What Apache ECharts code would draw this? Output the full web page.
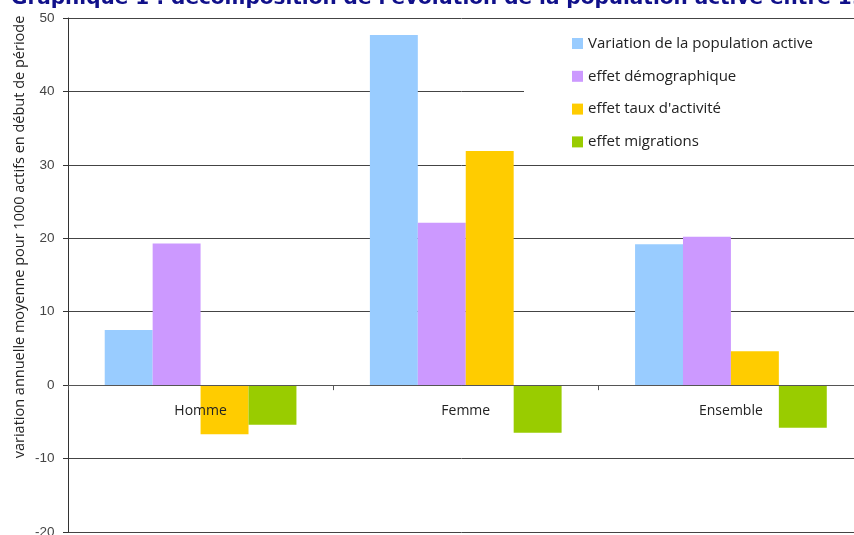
<!DOCTYPE html>
<html><head><meta charset="utf-8">
<script src="https://cdn.jsdelivr.net/npm/echarts@6/dist/echarts.min.js"></script>
<style>html,body{margin:0;padding:0;background:#fff}#c{width:854px;height:535px}</style>
</head><body><div id="c"></div>
<script>
const categories = ['Homme', 'Femme', 'Ensemble'];
const seriesNames = ['Variation de la population active', 'effet démographique', "effet taux d'activité", 'effet migrations'];
const variation = [7.5, 47.7, 19.2];
const demographique = [19.3, 22.1, 20.2];
const tauxActivite = [-6.7, 31.9, 4.6];
const migrations = [-5.4, -6.5, -5.8];
const yTicks = [-20, -10, 0, 10, 20, 30, 40, 50];
const colors = ['#99ccff', '#cc99ff', '#ffcc00', '#99cc00'];
const values = [variation, demographique, tauxActivite, migrations];

const chart = echarts.init(document.getElementById('c'));
chart.setOption({
  animation: false,
  title: {
    text: "Graphique 1 : décomposition de l'évolution de la population active entre 1990 et 2005",
    left: 6, top: -16,
    textStyle: { color: '#10108a', fontSize: 20, fontWeight: 'bold', fontFamily: 'DejaVu Sans' }
  },
  legend: {
    orient: 'vertical', left: 524, top: 21,
    padding: [15, 60, 14, 48],
    backgroundColor: '#fff',
    itemWidth: 11, itemHeight: 11, itemGap: 17.8,
    icon: 'rect',
    textStyle: { fontFamily: 'Open Sans', fontSize: 15, color: '#222', lineHeight: 12.5 },
    data: seriesNames,
    z: 20
  },
  graphic: [{
    type: 'text', x: 20, y: 237, rotation: Math.PI / 2, z: 30,
    style: { text: 'variation annuelle moyenne pour 1000 actifs en début de période', fontFamily: 'Open Sans', fontSize: 14.5, fill: '#222', align: 'center', verticalAlign: 'middle' }
  }],
  grid: { left: 68, right: -9.5, top: 18, bottom: 3, outerBoundsMode: 'none', containLabel: false },
  xAxis: {
    type: 'category', data: categories, z: 10,
    axisLine: { onZero: true, lineStyle: { color: '#555', width: 1 } },
    axisTick: { show: true, length: 5, inside: false, lineStyle: { color: '#555' } },
    axisLabel: { margin: -128, fontFamily: 'Open Sans', fontSize: 14, color: '#222' },
    splitLine: { show: false }
  },
  yAxis: {
    type: 'value', min: yTicks[0], max: yTicks[yTicks.length - 1], interval: 10,
    axisLine: { show: true, lineStyle: { color: '#333' } },
    axisTick: { show: true, length: 5, lineStyle: { color: '#333' } },
    axisLabel: { margin: 13.5, fontFamily: 'Liberation Sans', fontSize: 13.5, color: '#444' },
    splitLine: { show: true, lineStyle: { color: '#444', width: 1 } }
  },
  series: values.map((v, i) => ({
    name: seriesNames[i], type: 'bar', data: v,
    barGap: '0%', barCategoryGap: '27.7%',
    itemStyle: { color: colors[i] }
  }))
});
</script></body></html>
